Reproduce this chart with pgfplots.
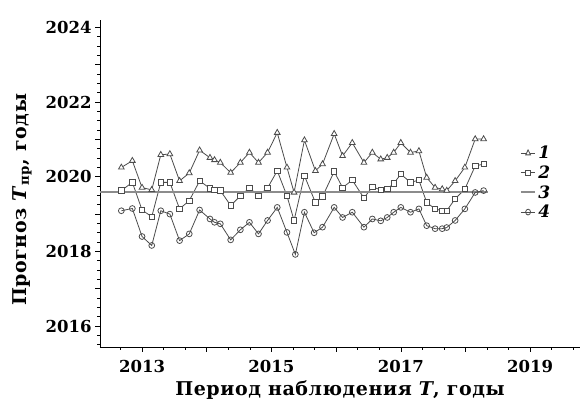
\documentclass[border=0pt]{standalone}
\usepackage{fontspec}
\setmainfont{DejaVu Serif}
\newfontfamily\labfont[LetterSpace=3]{DejaVu Serif}
\usepackage{pgfplots}
\pgfplotsset{compat=1.18}
\begin{document}
\begin{tikzpicture}
\begin{axis}[
  scale only axis, width=480pt, height=327pt,
  at={(0pt,0pt)}, anchor=south west,
  xmin=2012.35, xmax=2019.77, ymin=2015.44, ymax=2024.2,
  axis lines*=left,
  axis line style={black, line width=0.8pt},
  xtick={2013,2014,2015,2016,2017,2018,2019},
  xticklabels={2013,,2015,,2017,,2019},
  ytick={2016,2017,2018,2019,2020,2021,2022,2023,2024},
  yticklabels={2016,,2018,,2020,,2022,,2024},
  minor xtick={2012.6667,2013.3333,2013.6667,2014.3333,2014.6667,2015.3333,2015.6667,2016.3333,2016.6667,2017.3333,2017.6667,2018.3333,2018.6667,2019.3333,2019.6667},
  minor ytick={2015.5,2015.75,2016.25,2016.5,2016.75,2017.25,2017.5,2017.75,2018.25,2018.5,2018.75,2019.25,2019.5,2019.75,2020.25,2020.5,2020.75,2021.25,2021.5,2021.75,2022.25,2022.5,2022.75,2023.25,2023.5,2023.75},
  tick align=outside,
  major tick length=5pt, minor tick length=3pt,
  tick style={black, line width=0.6pt},
  ticklabel style={font=\fontsize{16.5}{18}\selectfont\bfseries},
  xticklabel style={yshift=-5pt},
  xlabel={Период наблюдения \textit{T}, годы},
  ylabel={Прогноз \textit{T}\textsubscript{пр}, годы},
  label style={font=\labfont\fontsize{19}{21}\selectfont\bfseries},
  xlabel style={at={(axis description cs:0.5,-0.131)}, anchor=center},
  ylabel style={at={(axis description cs:-0.1625,0.45)}, anchor=center},
  legend style={at={(rel axis cs:0.868,0.627)}, anchor=north west, draw=none, fill=none,
    font=\fontsize{17}{19}\selectfont\bfseries\itshape, row sep=1.5pt},
  legend cell align=left,
  legend image post style={xscale=0.85},
]
\addplot[black!70, line width=0.8pt, mark=triangle*, mark size=3.3pt, mark options={fill=white, solid}] coordinates {
(2012.68,2020.25) (2012.85,2020.43) (2013.00,2019.71) (2013.15,2019.65) (2013.29,2020.59)
(2013.43,2020.61) (2013.58,2019.89) (2013.73,2020.10) (2013.89,2020.71) (2014.05,2020.51)
(2014.12,2020.45) (2014.21,2020.38) (2014.37,2020.11) (2014.52,2020.38) (2014.66,2020.65)
(2014.80,2020.38) (2014.94,2020.65) (2015.09,2021.18) (2015.24,2020.25) (2015.35,2019.58)
(2015.51,2020.98) (2015.68,2020.16) (2015.79,2020.34) (2015.97,2021.15) (2016.10,2020.56)
(2016.25,2020.91) (2016.43,2020.38) (2016.56,2020.65) (2016.69,2020.47) (2016.79,2020.51)
(2016.89,2020.65) (2017.00,2020.91) (2017.15,2020.65) (2017.28,2020.69) (2017.40,2019.98)
(2017.53,2019.71) (2017.64,2019.67) (2017.71,2019.63) (2017.84,2019.89) (2017.99,2020.25)
(2018.15,2021.01) (2018.28,2021.01)
};
\addlegendentry{1}
\addplot[black!70, line width=0.8pt, mark=square*, mark size=2.7pt, mark options={fill=white, solid}] coordinates {
(2012.68,2019.63) (2012.85,2019.85) (2013.00,2019.11) (2013.15,2018.93) (2013.29,2019.85)
(2013.43,2019.85) (2013.58,2019.14) (2013.73,2019.36) (2013.89,2019.89) (2014.05,2019.69)
(2014.12,2019.65) (2014.21,2019.63) (2014.37,2019.23) (2014.52,2019.49) (2014.66,2019.70)
(2014.80,2019.49) (2014.94,2019.70) (2015.09,2020.16) (2015.24,2019.49) (2015.35,2018.83)
(2015.51,2020.03) (2015.68,2019.31) (2015.79,2019.47) (2015.97,2020.14) (2016.10,2019.71)
(2016.25,2019.91) (2016.43,2019.43) (2016.56,2019.73) (2016.69,2019.65) (2016.79,2019.67)
(2016.89,2019.82) (2017.00,2020.07) (2017.15,2019.85) (2017.28,2019.91) (2017.40,2019.31)
(2017.53,2019.14) (2017.64,2019.09) (2017.71,2019.09) (2017.84,2019.41) (2017.99,2019.67)
(2018.15,2020.29) (2018.28,2020.34)
};
\addlegendentry{2}
\addplot[black!45, line width=2pt, no marks] coordinates {
(2012.35,2019.60) (2018.35,2019.60)
};
\addlegendentry{3}
\addplot[black!70, line width=0.8pt, mark=o, mark size=2.9pt, mark options={fill=white, solid}] coordinates {
(2012.68,2019.09) (2012.85,2019.15) (2013.00,2018.40) (2013.15,2018.16) (2013.29,2019.09)
(2013.43,2019.00) (2013.58,2018.29) (2013.73,2018.47) (2013.89,2019.11) (2014.05,2018.87)
(2014.12,2018.78) (2014.21,2018.74) (2014.37,2018.31) (2014.52,2018.58) (2014.66,2018.78)
(2014.80,2018.47) (2014.94,2018.83) (2015.09,2019.18) (2015.24,2018.51) (2015.37,2017.92)
(2015.51,2019.05) (2015.66,2018.50) (2015.79,2018.65) (2015.97,2019.18) (2016.10,2018.91)
(2016.25,2019.05) (2016.43,2018.65) (2016.56,2018.87) (2016.69,2018.82) (2016.79,2018.91)
(2016.89,2019.05) (2017.00,2019.18) (2017.15,2019.05) (2017.28,2019.14) (2017.40,2018.69)
(2017.53,2018.61) (2017.64,2018.61) (2017.71,2018.64) (2017.84,2018.83) (2017.99,2019.14)
(2018.15,2019.58) (2018.28,2019.63)
};
\addlegendentry{4}
\end{axis}
\pgfresetboundingbox
\path[use as bounding box] (-100pt,-57pt) rectangle (482pt,347pt);
\end{tikzpicture}
\end{document}
